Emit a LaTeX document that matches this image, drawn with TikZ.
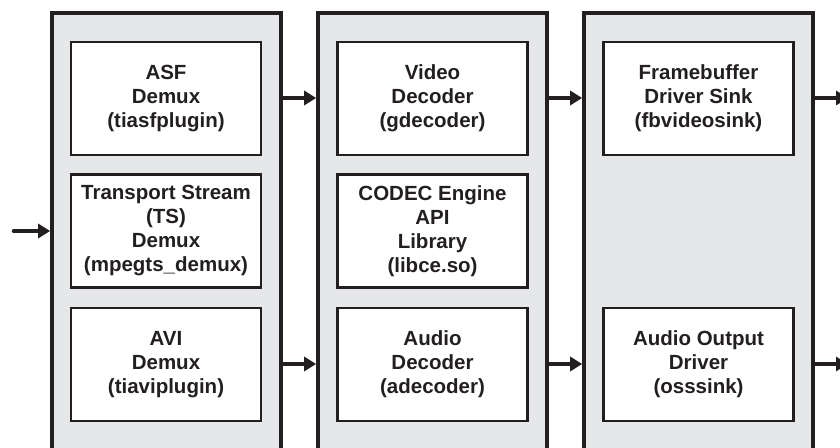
\documentclass[tikz,border=0pt]{standalone}
\usepackage{fontspec}
\setmainfont{Liberation Sans}
\usetikzlibrary{arrows.meta,calc}
\definecolor{ink}{HTML}{231F20}
\definecolor{panel}{HTML}{E6E7E8}
\begin{document}
\begin{tikzpicture}[x=1pt,y=1pt,
  outerbox/.style={draw=ink,fill=panel,line width=3.6pt,minimum width=229pt,minimum height=460pt,inner sep=0pt},
  innerbox/.style={draw=ink,fill=white,line width=2.5pt,minimum width=190pt,minimum height=113pt,inner sep=0pt,
    align=center,font=\fontsize{20.5pt}{24pt}\selectfont\bfseries,text=ink},
  arr/.style={draw=ink,line width=4.6pt,line cap=round,-{Triangle[length=12pt,width=14pt]}}]
\useasboundingbox (0,0) rectangle (840,447);
\begin{scope}
\clip (0,0) rectangle (840,447);
\node[outerbox] (o1) at (166.5,204) {};
\node[outerbox] (o2) at (432.5,204) {};
\node[outerbox] (o3) at (698.5,204) {};

\node[innerbox] (a1) at (166,348.5) {ASF\\Demux\\(tiasfplugin)};
\node[innerbox] (a2) at (166,216) {Transport Stream\\(TS)\\Demux\\(mpegts\_demux)};
\node[innerbox] (a3) at (166,82.5) {AVI\\Demux\\(tiaviplugin)};

\node[innerbox] (b1) at (432.5,348.5) {Video\\Decoder\\(gdecoder)};
\node[innerbox] (b2) at (432.5,216) {CODEC Engine\\API\\Library\\(libce.so)};
\node[innerbox] (b3) at (432.5,82.5) {Audio\\Decoder\\(adecoder)};

\node[innerbox] (c1) at (698.5,348.5) {Framebuffer\\Driver Sink\\(fbvideosink)};
\node[innerbox] (c3) at (698.5,82.5) {Audio Output\\Driver\\(osssink)};

\coordinate (in) at (14,216);
\coordinate (out1) at (848,349);
\coordinate (out3) at (848,83);

\draw[arr] (in) -- (o1.west |- in);
\draw[arr] (o1.east |- out1) -- (o2.west |- out1);
\draw[arr] (o1.east |- out3) -- (o2.west |- out3);
\draw[arr] (o2.east |- out1) -- (o3.west |- out1);
\draw[arr] (o2.east |- out3) -- (o3.west |- out3);
\draw[arr] (o3.east |- out1) -- (out1);
\draw[arr] (o3.east |- out3) -- (out3);
\end{scope}
\end{tikzpicture}
\end{document}
